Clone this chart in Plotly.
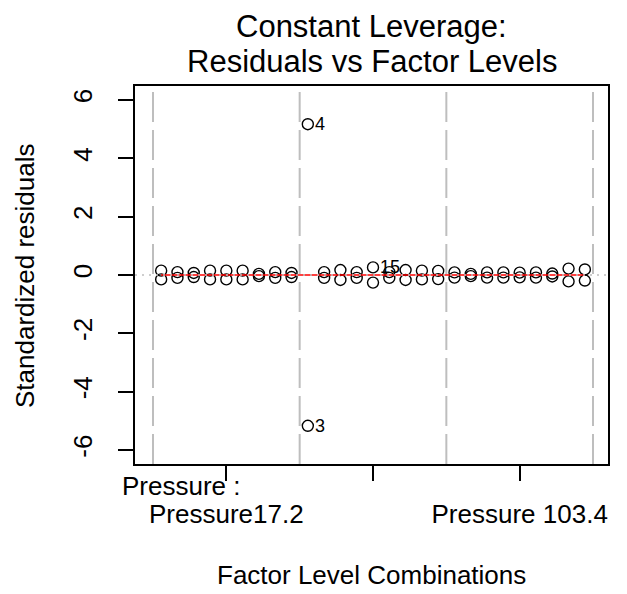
import plotly.graph_objects as go

# ---- data ----
# factor level combinations 0..26 (3 Pressure levels x 9 sub-levels), 2 replicates each
combo_x = list(range(27))
resid_upper = [0.15, 0.10, 0.07, 0.15, 0.15, 0.15, 0.04, 0.10, 0.07,
               5.17, 0.10, 0.17, 0.10, 0.26, 0.10, 0.17, 0.15, 0.14,
               0.09, 0.04, 0.09, 0.09, 0.08, 0.09, 0.05, 0.22, 0.19]
resid_lower = [-0.15, -0.10, -0.07, -0.15, -0.15, -0.15, -0.04, -0.10, -0.07,
               -5.17, -0.10, -0.17, -0.10, -0.26, -0.10, -0.17, -0.15, -0.14,
               -0.09, -0.04, -0.09, -0.09, -0.08, -0.09, -0.05, -0.22, -0.19]
labeled_x = [9, 9, 13]
labeled_y = [5.17, -5.17, 0.26]
labeled_id = ["4", "3", "15"]
level_boundaries = [-0.5, 8.5, 17.5, 26.5]
tick_pos = [4, 13, 22]
tick_text = ["Pressure17.2", "", "Pressure 103.4"]
y_ticks = [-6, -4, -2, 0, 2, 4, 6]

FONT = "Liberation Sans, Arial, Helvetica, sans-serif"

xs = combo_x + combo_x
ys = resid_upper + resid_lower
smooth_y = [(a + b) / 2 for a, b in zip(resid_upper, resid_lower)]

fig = go.Figure()

# vertical boundaries
for b in level_boundaries:
    fig.add_shape(type="line", x0=b, x1=b, y0=0, y1=1, xref="x", yref="paper",
                  line=dict(color="#BEBEBE", width=2, dash="30px,8px"), layer="below")

fig.add_trace(go.Scatter(x=xs, y=ys, mode="markers",
                         marker=dict(symbol="circle-open", size=11, color="black",
                                     line=dict(width=1.4, color="black")),
                         showlegend=False, hoverinfo="skip"))
fig.add_trace(go.Scatter(x=combo_x, y=smooth_y, mode="lines",
                         line=dict(color="red", width=1.6), showlegend=False))
# dotted zero line over everything
fig.add_shape(type="line", x0=0, x1=1, y0=0, y1=0, xref="paper", yref="y",
              line=dict(color="#BEBEBE", width=1.5, dash="2px,5px"), layer="above")

for x, y, t in zip(labeled_x, labeled_y, labeled_id):
    fig.add_annotation(x=x, y=y, text=t, showarrow=False, xanchor="left", yanchor="middle",
                       xshift=5, font=dict(size=18, color="black", family=FONT))

# titles
fig.add_annotation(x=0.5, y=1.1587, xref="paper", yref="paper", text="Constant Leverage:",
                   showarrow=False, xanchor="center", yanchor="middle",
                   font=dict(size=31, color="black", family=FONT))
fig.add_annotation(x=0.5, y=1.0635, xref="paper", yref="paper", text="Residuals vs Factor Levels",
                   showarrow=False, xanchor="center", yanchor="middle",
                   font=dict(size=31, color="black", family=FONT))
fig.add_annotation(x=0.5, y=-0.293, xref="paper", yref="paper", text="Factor Level Combinations",
                   showarrow=False, xanchor="center", yanchor="middle",
                   font=dict(size=26, color="black", family=FONT))
fig.add_annotation(x=-0.2326, y=0.5, xref="paper", yref="paper", text="Standardized residuals",
                   showarrow=False, xanchor="center", yanchor="middle", textangle=-90,
                   font=dict(size=26, color="black", family=FONT))
fig.add_annotation(x=-0.0317, y=-0.058, xref="paper", yref="paper", text="Pressure :",
                   showarrow=False, xanchor="left", yanchor="middle",
                   font=dict(size=26, color="black", family=FONT))

fig.update_layout(
    width=627, height=594,
    margin=dict(l=135, r=19, t=86, b=130),
    plot_bgcolor="white", paper_bgcolor="white",
    font=dict(family=FONT, color="black", size=26),
    xaxis=dict(range=[-1.605, 27.42], showgrid=False, zeroline=False, automargin=False,
               showline=True, mirror=True, linecolor="black", linewidth=1.5,
               tickmode="array", tickvals=tick_pos, ticktext=tick_text,
               ticks="outside", ticklen=15, tickwidth=1.5, tickcolor="black",
               ticklabelstandoff=11, tickfont=dict(size=26)),
    yaxis=dict(range=[-6.48, 6.48], showgrid=False, zeroline=False, automargin=False,
               showline=True, mirror=True, linecolor="black", linewidth=1.5,
               tickmode="array", tickvals=y_ticks, ticktext=[str(v) for v in y_ticks],
               ticks="outside", ticklen=15, tickwidth=1.5, tickcolor="black",
               tickangle=-90, ticklabelstandoff=16, tickfont=dict(size=26)),
)

fig.write_html("out.html")
